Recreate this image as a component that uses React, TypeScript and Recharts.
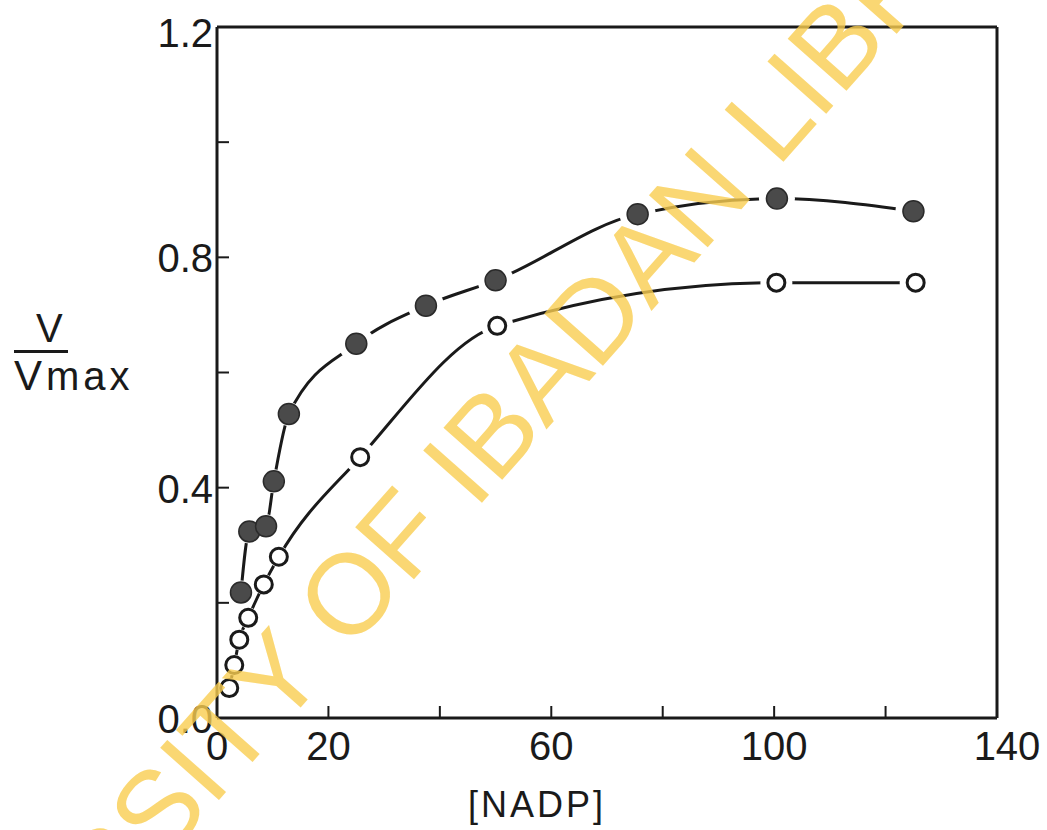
import React from "react";
import { LineChart, Line, XAxis, YAxis } from "recharts";

// filled circles
const nadpFilled = [4.3, 5.8, 8.8, 10.2, 12.9, 25, 37.5, 50, 75.5, 100.5, 125];
const vFilled = [0.218, 0.324, 0.333, 0.411, 0.528, 0.65, 0.716, 0.76, 0.875, 0.902, 0.88];
// open circles
const nadpOpen = [2.2, 3.1, 4.0, 5.6, 8.4, 11.1, 25.7, 50.3, 100.4, 125.4];
const vOpen = [0.052, 0.092, 0.136, 0.174, 0.232, 0.28, 0.453, 0.681, 0.756, 0.756];

const xTicks = [0, 20, 40, 60, 80, 100, 120, 140];
const xLabels = ["0", "20", "", "60", "", "100", "", "140"];
const yTicks = [0, 0.2, 0.4, 0.6, 0.8, 1.0, 1.2];
const yLabels = ["0.0", "", "0.4", "", "0.8", "", "1.2"];

const filledData = nadpFilled.map((x, i) => ({ x, v: vFilled[i] }));
const openData = nadpOpen.map((x, i) => ({ x, v: vOpen[i] }));

const INK = "#1a1a1a";
const FONT = "'Liberation Sans', Arial, sans-serif";

// white halo so the line stops short of each marker; smaller where the points crowd together
const FilledRing = (p: any) => (
  <circle key={`fr${p.cx}`} cx={p.cx} cy={p.cy} r={p.cx > 330 ? 18 : 12} fill="#fff" />
);
const OpenRing = (p: any) => (
  <circle key={`or${p.cx}`} cx={p.cx} cy={p.cy} r={p.cx > 330 ? 16 : 10.5} fill="#fff" />
);
const FilledDot = (p: any) => (
  <circle key={`fd${p.cx}`} cx={p.cx} cy={p.cy} r={10.5} fill="#4a4a4a" stroke="#2a2a2a" strokeWidth={1.5} />
);
const OpenDot = (p: any) => (
  <circle key={`od${p.cx}`} cx={p.cx} cy={p.cy} r={8.5} fill="#fff" stroke={INK} strokeWidth={3} />
);

const BottomTick = (p: any) => {
  const v = p.payload.value;
  const label = xLabels[xTicks.indexOf(v)];
  return (
    <g>
      {v !== 0 && v !== 140 && <line x1={p.x} x2={p.x} y1={p.y} y2={p.y - 12} stroke={INK} strokeWidth={2} />}
      {label && (
        <text x={p.x + (v === 140 ? 10 : 0)} y={p.y + 42} textAnchor="middle" fontSize={40} fill={INK} fontFamily={FONT}>
          {label}
        </text>
      )}
    </g>
  );
};

const TopTick = (p: any) => {
  const v = p.payload.value;
  if (v === 0 || v === 140) return <g />;
  return <line x1={p.x} x2={p.x} y1={p.y} y2={p.y + 12} stroke={INK} strokeWidth={2} />;
};

const LeftTick = (p: any) => {
  const v = p.payload.value;
  const label = yLabels[yTicks.findIndex((t) => Math.abs(t - v) < 1e-6)];
  return (
    <g>
      {v > 0.01 && v < 1.19 && <line x1={p.x} x2={p.x + 12} y1={p.y} y2={p.y} stroke={INK} strokeWidth={2} />}
      {label && (
        <text x={p.x - 4} y={p.y + 15 + (v > 1.19 ? 5 : 0)} textAnchor="end" fontSize={40} fill={INK} fontFamily={FONT}>
          {label}
        </text>
      )}
    </g>
  );
};

const RightTick = (p: any) => {
  const v = p.payload.value;
  if (v < 0.01 || v > 1.19) return <g />;
  return <line x1={p.x} x2={p.x - 12} y1={p.y} y2={p.y} stroke={INK} strokeWidth={2} />;
};

const axisLine = { stroke: INK, strokeWidth: 3 };

export default function App() {
  return (
    <div style={{ position: "absolute", left: 0, top: 0, width: 1047, height: 830, background: "#fff", overflow: "hidden" }}>
      <LineChart width={1047} height={830} margin={{ top: 17, right: 40, bottom: 82, left: 157 }}>
        <XAxis
          type="number"
          dataKey="x"
          domain={[0, 140]}
          ticks={xTicks}
          height={30}
          tickSize={0}
          tickMargin={0}
          tickLine={false}
          axisLine={axisLine}
          tick={<BottomTick />}
          interval={0}
        />
        <XAxis
          xAxisId="top"
          type="number"
          orientation="top"
          domain={[0, 140]}
          ticks={xTicks}
          height={10}
          tickSize={0}
          tickMargin={0}
          tickLine={false}
          axisLine={axisLine}
          tick={<TopTick />}
          interval={0}
        />
        <YAxis
          type="number"
          domain={[0, 1.2]}
          ticks={yTicks}
          width={60}
          tickSize={0}
          tickMargin={0}
          tickLine={false}
          axisLine={axisLine}
          tick={<LeftTick />}
          interval={0}
        />
        <YAxis
          yAxisId="right"
          orientation="right"
          type="number"
          domain={[0, 1.2]}
          ticks={yTicks}
          width={10}
          tickSize={0}
          tickMargin={0}
          tickLine={false}
          axisLine={axisLine}
          tick={<RightTick />}
          interval={0}
        />
        <Line data={filledData} dataKey="v" type="monotone" stroke={INK} strokeWidth={3} dot={FilledRing} activeDot={false} isAnimationActive={false} />
        <Line data={openData} dataKey="v" type="monotone" stroke={INK} strokeWidth={3} dot={OpenRing} activeDot={false} isAnimationActive={false} />
        <Line data={filledData} dataKey="v" type="monotone" stroke="none" dot={FilledDot} activeDot={false} isAnimationActive={false} />
        <Line data={openData} dataKey="v" type="monotone" stroke="none" dot={OpenDot} activeDot={false} isAnimationActive={false} />
      </LineChart>

      <div style={{ position: "absolute", left: 14, top: 308, width: 140, fontFamily: FONT, color: INK, lineHeight: 1 }}>
        <div style={{ fontSize: 40, marginLeft: 22 }}>V</div>
        <div style={{ width: 54, borderTop: `3px solid ${INK}`, marginTop: 2 }} />
        <div style={{ fontSize: 42, marginTop: 2, letterSpacing: 4 }}>
          V<span style={{ fontSize: 40 }}>max</span>
        </div>
      </div>

      <div style={{ position: "absolute", left: 468, top: 784, fontSize: 36, fontFamily: FONT, color: INK, letterSpacing: 3 }}>
        [NADP]
      </div>

      <div
        style={{
          position: "absolute",
          left: 458,
          top: 470,
          transform: "translate(-50%, -50%) rotate(-48.5deg)",
          whiteSpace: "nowrap",
          fontFamily: FONT,
          fontSize: 114,
          color: "rgba(249, 205, 80, 0.8)",
          pointerEvents: "none",
        }}
      >
        UNIVERSITY OF IBADAN LIBRARY
      </div>
    </div>
  );
}
